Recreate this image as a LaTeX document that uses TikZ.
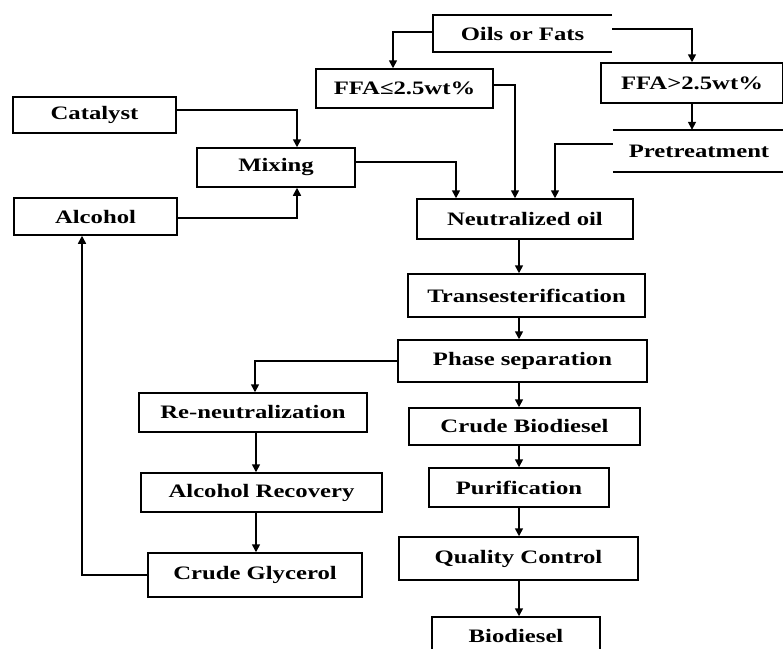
\documentclass[tikz,border=0pt]{standalone}
\usepackage{fontspec}
\setmainfont{Liberation Serif}[FakeStretch=1.3]
\usetikzlibrary{arrows.meta}
\tikzset{
  box/.style={draw, line width=1.5pt, rectangle, inner sep=0pt, font=\fontsize{19}{21}\selectfont\bfseries},
  openbox/.style={rectangle, inner sep=0pt, font=\fontsize{19}{21}\selectfont\bfseries},
  arr/.style={line width=1.6pt, -{Triangle[length=8pt,width=8pt]}},
}
\begin{document}
\begin{tikzpicture}[x=1pt,y=-1pt]
\useasboundingbox (0,0) rectangle (783,648);
\clip (0,0) rectangle (783,648);
\fill[white] (0,0) rectangle (783,648);
% nodes
\node[openbox, minimum width=179, minimum height=37] (oils) at (522.5,33.5) {Oils or Fats};
\node[box, minimum width=177, minimum height=39] (ffa1) at (404.5,88.5) {FFA≤2.5wt\%};
\node[box, minimum width=182, minimum height=40] (ffa2) at (692,83) {FFA>2.5wt\%};
\node[openbox, minimum width=172, minimum height=42] (pre) at (699,151) {Pretreatment};
\node[box, minimum width=163, minimum height=36] (cat) at (94.5,115) {Catalyst};
\node[box, minimum width=158, minimum height=39] (mix) at (276,167.5) {Mixing};
\node[box, minimum width=163, minimum height=37] (alc) at (95.5,216.5) {Alcohol};
\node[box, minimum width=216, minimum height=40] (neut) at (525,219) {Neutralized oil};
\node[box, minimum width=237, minimum height=43] (trans) at (526.5,295.5) {Transesterification};
\node[box, minimum width=249, minimum height=42] (phase) at (522.5,361) {Phase separation};
\node[box, minimum width=228, minimum height=39] (reneut) at (253,412.5) {Re-neutralization};
\node[box, minimum width=241, minimum height=39] (alcrec) at (261.5,492.5) {Alcohol Recovery};
\node[box, minimum width=214, minimum height=44] (glyc) at (255,575) {Crude Glycerol};
\node[box, minimum width=231, minimum height=37] (crude) at (524.5,426.5) {Crude Biodiesel};
\node[box, minimum width=180, minimum height=39] (purif) at (519,487.5) {Purification};
\node[box, minimum width=239, minimum height=43] (qc) at (518.5,558.5) {Quality Control};
\node[box, minimum width=168, minimum height=38] (bio) at (516,636) {Biodiesel};
% open boxes
\draw[line width=1.5pt] (oils.north east) -- (oils.north west) -- (oils.south west) -- (oils.south east);
\draw[line width=1.5pt] (pre.north west) -- (pre.north east);
\draw[line width=1.5pt] (pre.south west) -- (pre.south east);
% column coordinates
\coordinate (colR) at (519,0);
\coordinate (colL) at (256,0);
% connectors
\draw[arr] ([yshift=1.5]oils.west) -| ([xshift=-11.5]ffa1.north);
\draw[arr] ([yshift=4.5]oils.east) -| (ffa2.north);
\draw[arr] ([yshift=3.5]ffa1.east) -| ([xshift=-10]neut.north);
\draw[arr] (ffa2.south) -- (ffa2.south |- pre.north);
\draw[arr] ([yshift=7]pre.west) -| ([xshift=30]neut.north);
\draw[arr] ([yshift=5.5]mix.east) -| ([xshift=-69]neut.north);
\draw[arr] ([yshift=5]cat.east) -| ([xshift=21]mix.north);
\draw[arr] ([yshift=-1.5]alc.east) -| ([xshift=21]mix.south);
\draw[arr] (neut.south -| colR) -- (trans.north -| colR);
\draw[arr] (trans.south -| colR) -- (phase.north -| colR);
\draw[arr] (phase.south -| colR) -- (crude.north -| colR);
\draw[arr] (crude.south -| colR) -- (purif.north -| colR);
\draw[arr] (purif.south -| colR) -- (qc.north -| colR);
\draw[arr] (qc.south -| colR) -- (bio.north -| colR);
\draw[arr] (phase.west) -| ([xshift=2]reneut.north);
\draw[arr] (reneut.south -| colL) -- (alcrec.north -| colL);
\draw[arr] (alcrec.south -| colL) -- (glyc.north -| colL);
\draw[arr] (glyc.west) -| ([xshift=-13.5]alc.south);
\end{tikzpicture}
\end{document}
